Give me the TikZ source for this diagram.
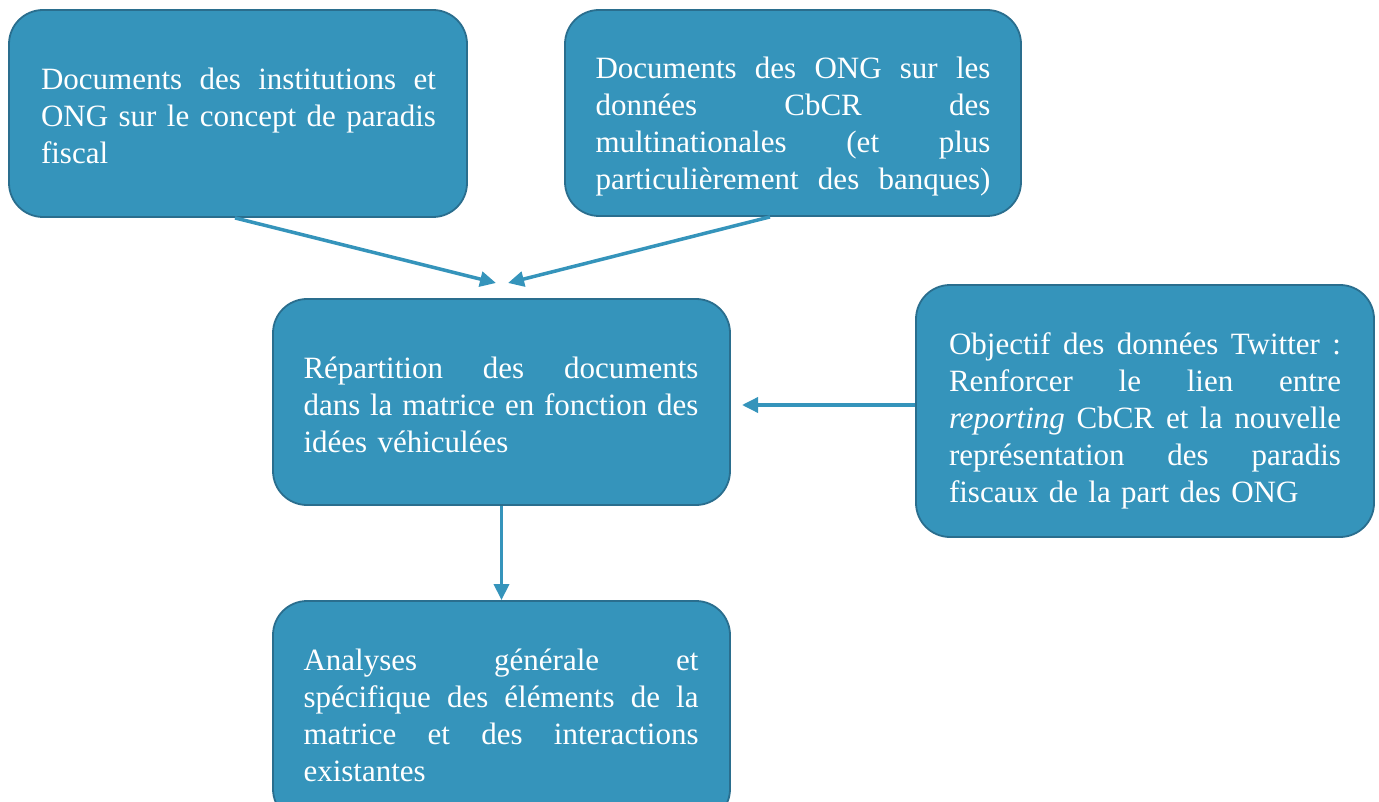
\documentclass[tikz,border=0pt]{standalone}
\usepackage{fontspec}
\setmainfont{Liberation Serif}
\usetikzlibrary{arrows.meta}
\definecolor{boxfill}{RGB}{53,148,187}
\definecolor{boxdraw}{RGB}{42,110,142}
\definecolor{arrowc}{RGB}{53,148,187}
\newcommand{\jl}[2][395pt]{\makebox[#1][s]{\spaceskip=0pt \xspaceskip=0pt #2}}
\tikzset{
  box/.style={draw=boxdraw, line width=1.8pt, fill=boxfill, rounded corners=34pt,
    inner sep=0pt, minimum width=458pt},
  txt/.style={text=white, font=\fontsize{31}{37}\selectfont, align=left,
    text width=395pt, inner sep=0pt},
  arr/.style={draw=arrowc, line width=3.5pt, -{Triangle[length=16pt,width=15pt]}}
}
\begin{document}
\begin{tikzpicture}[x=1pt,y=-1pt]
\useasboundingbox (0,0) rectangle (1379,802);
\clip (0,0) rectangle (1379,802);
\node[box, minimum height=207pt] (A) at (238,113.5) {};
\node[txt] (At) at (238.5,116)
  {\jl{Documents des institutions et}\\\jl{ONG sur le concept de paradis}\\fiscal};
\node[box, minimum height=206pt, minimum width=456pt] (B) at (793,113) {};
\node[txt] (Bt) at (793,126.5)
  {\jl{Documents des ONG sur les}\\\jl{données CbCR des}\\\jl{multinationales (et plus}\\\jl{particulièrement des banques)}};
\node[box, minimum height=206pt, minimum width=457pt] (C) at (501.5,402) {};
\node[txt] (Ct) at (501,405)
  {\jl{Répartition des documents}\\\jl{dans la matrice en fonction des}\\idées véhiculées};
\node[box, minimum height=252pt] (D) at (1145,411) {};
\node[txt, text width=392pt] (Dt) at (1145,421)
  {\jl[392pt]{Objectif des données Twitter :}\\\jl[392pt]{Renforcer le lien entre}\\\jl[392pt]{\textit{reporting} CbCR et la nouvelle}\\\jl[392pt]{représentation des paradis}\\fiscaux de la part des ONG};
\node[box, minimum height=222pt, minimum width=457pt] (E) at (501.5,712) {};
\node[txt] (Et) at (501,715)
  {\jl{Analyses générale et}\\\jl{spécifique des éléments de la}\\\jl{matrice et des interactions}\\existantes};
\coordinate (tL) at (496,283);
\coordinate (tR) at (508,283);
\coordinate (tH) at (742,405);
\draw[arr] ([xshift=-3pt]A.south) -- (tL);
\draw[arr] ([xshift=-23pt]B.south) -- (tR);
\draw[arr] (D.west |- tH) -- (tH);
\draw[arr] (C.south) -- (E.north);
\end{tikzpicture}
\end{document}
